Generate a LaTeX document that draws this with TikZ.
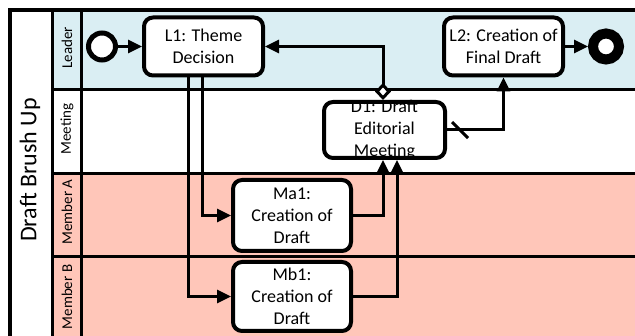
\documentclass[tikz,border=0pt]{standalone}
\usepackage{fontspec}
\setmainfont{Carlito}
\usetikzlibrary{arrows.meta}
\definecolor{leaderblue}{RGB}{218,238,243}
\definecolor{membersalmon}{RGB}{255,198,185}

\begin{document}
\begin{tikzpicture}[
    x=1pt, y=-1pt,
    every node/.style = {font=\fontsize{18}{22}\selectfont},
    task/.style       = {draw, line width=4pt, rounded corners=9pt, fill=white, align=center, inner sep=0pt},
    evt/.style        = {circle, draw, fill=white, inner sep=0pt},
    lanetext/.style   = {rotate=90, font=\fontsize{15}{18}\selectfont},
    flow/.style       = {line width=3pt, -{Triangle[length=14pt,width=13pt]}},
    condflow/.style   = {line width=3pt, {Diamond[fill=white,length=17pt,width=16pt,line width=3pt]}-{Triangle[length=14pt,width=13pt]}},
    sep/.style        = {line width=3pt}
    ]
      \useasboundingbox (0,0) rectangle (635,336);
      \clip (0,0) rectangle (635,336);

      % lanes ----------------------------------------------------
      \fill[leaderblue]   (52,10)  rectangle (640,90);
      \fill[membersalmon] (52,174) rectangle (640,340);
      \draw[sep] (52,90) -- (640,90)
                 (52,174) -- (640,174)
                 (52,257) -- (640,257);
      \draw[sep] (52,10) -- (52,340)
                 (81,10) -- (81,340);
      \draw[line width=4pt] (640,10) -- (9.5,10) -- (9.5,340);

      \node[rotate=90, font=\fontsize{24}{28}\selectfont] (pool) at (30,170) {Draft Brush Up};
      \node[lanetext] (leaderlbl) at (67,48)  {Leader};
      \node[lanetext] (meetlbl)   at (67,129) {Meeting};
      \node[lanetext] (memAlbl)   at (67,212) {Member A};
      \node[lanetext] (memBlbl)   at (67,297) {Member B};

      % vertices -------------------------------------------------
      \node[evt, line width=5pt, minimum size=27pt]  (start) at (102,46.5) {};
      \node[evt, line width=10pt, minimum size=26pt] (end)   at (606,46.5) {};
      \node[task, minimum width=119pt, minimum height=58pt] (L1) at (203.5,46.5) {L1: Theme\\Decision};
      \node[task, minimum width=119pt, minimum height=58pt] (L2) at (503.5,46.5) {L2: Creation of\\Final Draft};
      \node[task, minimum width=121pt, minimum height=56pt] (D1) at (384.5,130) {};
      \node[align=center] (D1txt) at (D1) {D1: Draft\\Editorial\\Meeting};
      \node[task, minimum width=118pt, minimum height=71pt] (Ma1) at (292,215.5) {Ma1:\\Creation of\\Draft};
      \node[task, minimum width=118pt, minimum height=69pt] (Mb1) at (292,296.5) {Mb1:\\Creation of\\Draft};

      % edges ----------------------------------------------------
      \draw[flow] (start) -- (L1);
      \draw[flow] (L2) -- (end);
      \draw[flow] ([xshift=-1.5pt]L1.south) |- (Ma1.west);
      \draw[flow] ([xshift=-15.5pt]L1.south) |- (Mb1.west);
      \draw[flow] (Ma1.east) -| ([xshift=-1.5pt]D1.south);
      \draw[flow] (Mb1.east) -| ([xshift=12.5pt]D1.south);
      \draw[condflow] ([xshift=-1.5pt]D1.north) |- (L1.east);
      \draw[flow] (D1.east) -| (L2.south);
      \draw[line width=3pt] ([shift={(5,-8)}]D1.east) -- ([shift={(21,8)}]D1.east);
\end{tikzpicture}
\end{document}
